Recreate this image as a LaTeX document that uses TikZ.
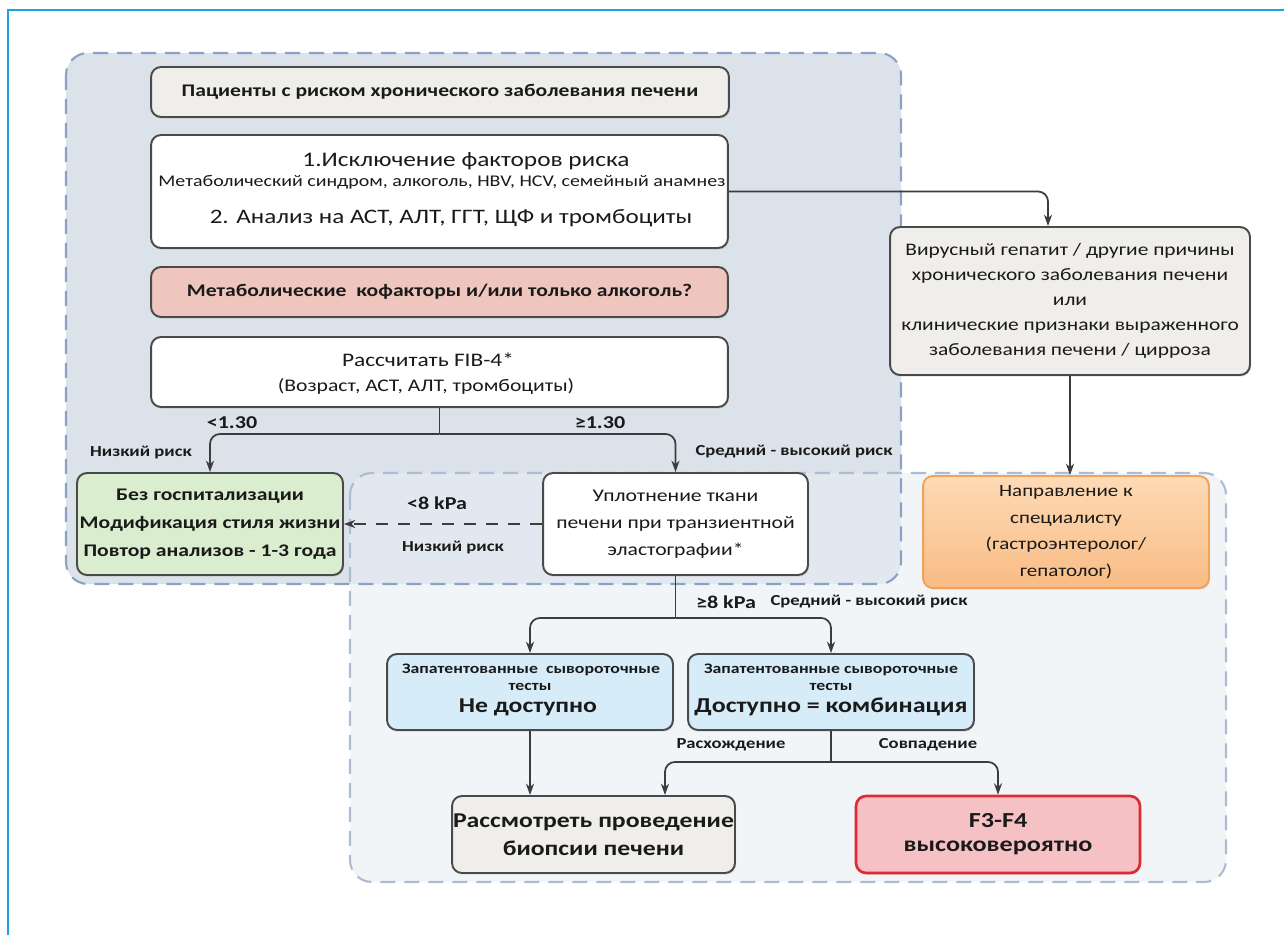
\documentclass[tikz,border=0pt]{standalone}
\usepackage{fontspec}
\setmainfont{Carlito}[FakeStretch=1.22]
\usetikzlibrary{arrows.meta,shadows,calc}
\definecolor{framec}{HTML}{1BA1E2}
\definecolor{regAfill}{HTML}{DBE2EA}
\definecolor{regAline}{HTML}{8AA2C4}
\definecolor{regBfill}{HTML}{E8EEF4}
\definecolor{regBline}{HTML}{ABBCD3}
\definecolor{boxline}{HTML}{4A4A4A}
\definecolor{greyfill}{HTML}{F0EEEB}
\definecolor{pinkfill}{HTML}{EEC6BD}
\definecolor{greenfill}{HTML}{DAEDCF}
\definecolor{orangetop}{HTML}{FDDAB6}
\definecolor{orangebot}{HTML}{F9BC84}
\definecolor{orangeline}{HTML}{EFA25A}
\definecolor{bluefill}{HTML}{D6ECF8}
\definecolor{redfill}{HTML}{F6C1C5}
\definecolor{redline}{HTML}{DD2A35}
\definecolor{arrc}{HTML}{3C3C3C}
\definecolor{txt}{HTML}{1A1A1A}
\newcommand{\fsz}[2]{\fontsize{#1}{#2}\selectfont}
\begin{document}
\begin{tikzpicture}[x=0.02cm,y=-0.02cm,
  box/.style={draw=boxline, line width=1.1pt, rounded corners=0.2cm, inner sep=0pt, align=center, text=txt,
    drop shadow={opacity=0.25,shadow xshift=0.6pt,shadow yshift=-0.9pt}},
  txtn/.style={inner sep=0pt, align=center, text=txt},
  lbl/.style={inner sep=0pt, text=txt, font=\bfseries\fsz{8.7}{11}},
  lblbig/.style={inner sep=0pt, text=txt, font=\bfseries\fsz{10.3}{12}},
  ln/.style={draw=arrc, line width=1pt},
  arr/.style={draw=arrc, line width=1pt, -{Stealth[length=6.5pt,width=4.6pt]}},
  rc/.style={rounded corners=0.2cm}]
\useasboundingbox (0,0) rectangle (1284,935);
\fill[white] (0,0) rectangle (1284,935);
\draw[framec, line width=1pt] (8,935) -- (8,10) -- (1284,10);

% regions
\fill[regAfill, rounded corners=0.44cm] (66,53) rectangle (901,584);
\fill[regBfill, fill opacity=0.55, rounded corners=0.44cm] (350,473) rectangle (1226,882);
\draw[regAline, line width=1.2pt, dash pattern=on 0.3cm off 0.18cm, rounded corners=0.44cm] (66,53) rectangle (901,584);
\draw[regBline, line width=1.2pt, dash pattern=on 0.3cm off 0.18cm, rounded corners=0.44cm] (350,473) rectangle (1226,882);

% boxes
\node[box, fill=greyfill, minimum width=11.56cm, minimum height=1cm, font=\bfseries\fsz{10.1}{12}] (B1) at (440,92)
  {Пациенты с риском хронического заболевания печени};
\node[box, fill=white, minimum width=11.54cm, minimum height=2.26cm] (B2) at (439.5,191.5) {};
\node[txtn, font=\fsz{11.8}{14}] (B2a) at (466,161) {1.Исключение факторов риска};
\node[txtn, font=\fsz{9.3}{11}] (B2b) at (442,182) {Метаболический синдром, алкоголь, HBV, HCV, семейный анамнез};
\node[txtn, font=\fsz{11.7}{13}] (B2c) at (451,218) {2. Анализ на АСТ, АЛТ, ГГТ, ЩФ и тромбоциты};
\node[box, fill=pinkfill, minimum width=11.54cm, minimum height=1cm, font=\bfseries\fsz{10.1}{12}] (B3) at (439.5,292)
  {Метаболические~ кофакторы и/или только алкоголь?};
\node[box, fill=white, minimum width=11.54cm, minimum height=1.4cm] (B4) at (439.5,372) {};
\node[txtn, font=\fsz{10.9}{13}] (B4a) at (428,360) {Рассчитать FIB-4*};
\node[txtn, font=\fsz{10.1}{12}] (B4b) at (426,386) {(Возраст, АСТ, АЛТ, тромбоциты)};

\node[box, fill=greenfill, minimum width=5.32cm, minimum height=2.04cm, font=\bfseries\fsz{10.1}{15.9}] (G) at (210,524)
  {Без госпитализации\\Модификация стиля жизни\\Повтор анализов - 1-3 года};
\node[box, fill=white, minimum width=5.3cm, minimum height=2.04cm, font=\fsz{10.1}{15.3}] (E) at (675.5,524)
  {Уплотнение ткани\\печени при транзиентной\\эластографии*};
\node[box, fill=greyfill, minimum width=7.2cm, minimum height=2.96cm, font=\fsz{10}{14.2}] (R1) at (1070,301)
  {Вирусный гепатит / другие причины\\хронического заболевания печени\\или\\клинические признаки выраженного\\заболевания печени / цирроза};
\node[box, draw=orangeline, top color=orangetop, bottom color=orangebot, minimum width=5.72cm, minimum height=2.24cm, font=\fsz{9.8}{15.1}] (O) at (1066,532)
  {Направление к\\специалисту\\(гастроэнтеролог/\\гепатолог)};

\node[box, fill=bluefill, minimum width=5.72cm, minimum height=1.52cm] (L) at (530,692) {};
\node[txtn, font=\bfseries\fsz{8.3}{10}] (La) at (531,670) {Запатентованные~ сывороточные};
\node[txtn, font=\bfseries\fsz{8.3}{10}] (Lb) at (530,687) {тесты};
\node[txtn, font=\bfseries\fsz{12}{14}] (Lc) at (528,707) {Не доступно};
\node[box, fill=bluefill, minimum width=5.72cm, minimum height=1.52cm] (R) at (831,692) {};
\node[txtn, font=\bfseries\fsz{8.3}{10}] (Ra) at (831,670) {Запатентованные сывороточные};
\node[txtn, font=\bfseries\fsz{8.3}{10}] (Rb) at (831,687) {тесты};
\node[txtn, font=\bfseries\fsz{12.1}{14}] (Rc) at (831,707) {Доступно = комбинация};

\node[box, fill=greyfill, minimum width=5.66cm, minimum height=1.54cm, font=\bfseries\fsz{12}{15.9}] (Bi) at (593.5,834.5)
  {Рассмотреть проведение\\биопсии печени};
\node[box, draw=redline, line width=1.5pt, fill=redfill, minimum width=5.68cm, minimum height=1.54cm, font=\bfseries\fsz{12.2}{13.5}] (F) at (998,834.5)
  {F3-F4\\высоковероятно};

% connectors
\coordinate (s1) at ([yshift=-0.52cm]B4.south);
\draw[ln] (B4.south) -- (s1);
\draw[arr, rc] (s1) -| (G.north);
\draw[arr, rc] (s1) -| (E.north);
\draw[arr, dash pattern=on 0.24cm off 0.2cm] (E.west) -- (G.east);
\coordinate (s2) at ([yshift=-0.84cm]E.south);
\draw[ln] (E.south) -- (s2);
\draw[arr, rc] (s2) -| (L.north);
\draw[arr, rc] (s2) -| (R.north);
\draw[arr] (L.south) -- (L.south |- Bi.north);
\coordinate (s3) at ([yshift=-0.62cm]R.south);
\draw[ln] (R.south) -- (s3);
\draw[arr, rc] (s3) -| ([xshift=1.43cm]Bi.north);
\draw[arr, rc] (s3) -| (F.north);
\draw[arr, rc] (B2.east) -| ([xshift=-0.44cm]R1.north);
\draw[arr] (R1.south) -- (R1.south |- O.north);

% labels
\node[lblbig] (l1) at (232,423) {<1.30};
\node[lblbig] (l2) at (600,423) {≥1.30};
\node[lbl] (l3) at (141,452) {Низкий риск};
\node[lbl] (l4) at (794,452) {Средний - высокий риск};
\node[lblbig] (l5) at (437,503) {<8 kPa};
\node[lbl] (l6) at (453,547) {Низкий риск};
\node[lblbig] (l7) at (726,602) {≥8 kPa};
\node[lbl] (l8) at (869,602) {Средний - высокий риск};
\node[lbl] (l9) at (731,745) {Расхождение};
\node[lbl] (l10) at (928,745) {Совпадение};
\end{tikzpicture}
\end{document}
